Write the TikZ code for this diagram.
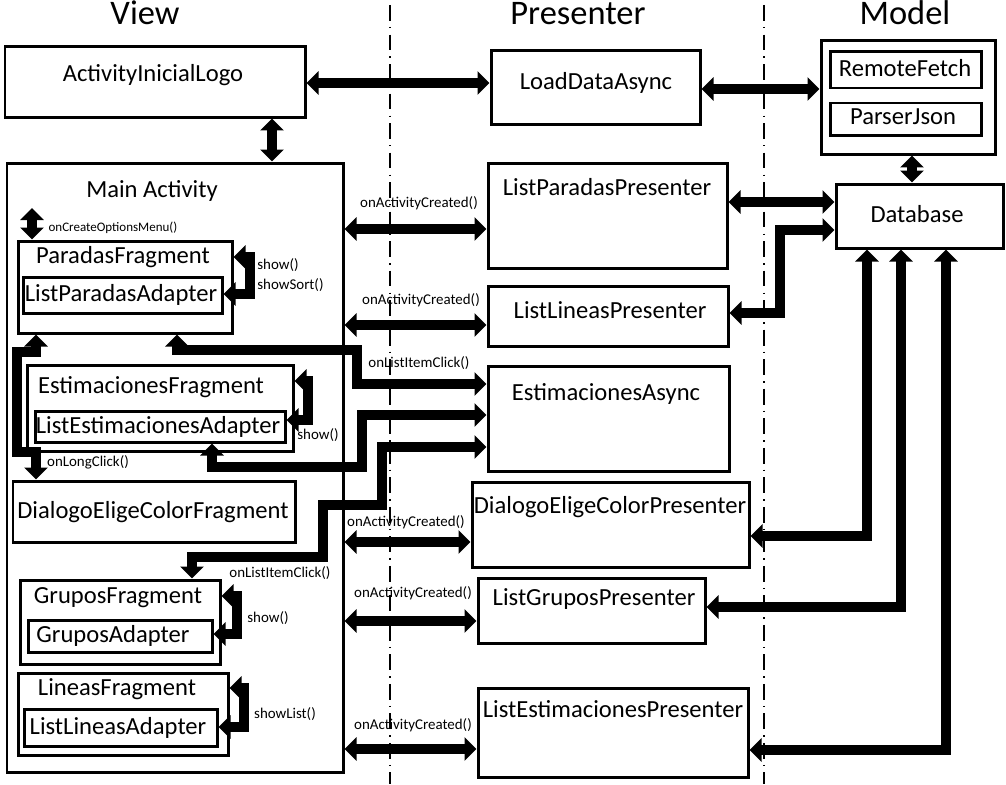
\documentclass[tikz,border=0pt]{standalone}
\usepackage{fontspec}
\setmainfont{Carlito}
\usetikzlibrary{arrows.meta,fit}

\tikzset{
  box/.style={draw, line width=0.06cm, inner sep=0pt},
  boxtxt/.style={font=\fontsize{14}{16}\selectfont, inner sep=0pt, text height=0.7em, text depth=0.2em, yshift=-1.2pt},
  msg/.style={font=\fontsize{8.5}{10}\selectfont, inner sep=0pt, text height=0.7em, text depth=0.2em},
  head/.style={font=\fontsize{19.6}{22}\selectfont, inner sep=0pt, text height=0.7em, text depth=0.2em},
  link/.style={line width=0.2cm, {Triangle[width=0.46cm,length=0.24cm]}-{Triangle[width=0.46cm,length=0.24cm]}},
  tierline/.style={line width=0.6pt, dash pattern=on 9pt off 3.5pt on 0.8pt off 3.5pt}
}

\begin{document}
\begin{tikzpicture}[x=0.02cm, y=-0.02cm]
    \useasboundingbox (0,0) rectangle (1006,784);

    % tiers
    \draw[tierline] (390,5) -- (390,784);
    \draw[tierline] (764,5) -- (764,784);

    \node[head] (hview) at (145,20) {View};
    \node[head] (hpres) at (578,20) {Presenter};
    \node[head] (hmodel) at (905,20) {Model};

    % view
    \node[box, fit={(5,47) (305,117)}] (logo) {};
    \node[boxtxt] (tlogo) at (153,75) {ActivityInicialLogo};
    \node[box, fit={(7,163) (343,772)}] (main) {};
    \node[boxtxt] (tmain) at (152,191) {Main Activity};

    \node[box, fit={(18,241) (232,333)}] (pf) {};
    \node[boxtxt] (tpf) at (123,257) {ParadasFragment};
    \node[box, fit={(23,277) (222,313)}] (lpa) {};
    \node[boxtxt] (tlpa) at (121,295) {ListParadasAdapter};

    \node[box, fit={(27,365) (293,451)}] (ef) {};
    \node[boxtxt] (tef) at (151,387) {EstimacionesFragment};
    \node[box, fit={(35,411) (285,442)}] (lea) {};
    \node[boxtxt] (tlea) at (158,427) {ListEstimacionesAdapter};

    \node[box, fit={(13,481) (295,542)}] (dlg) {};
    \node[boxtxt] (tdlg) at (153,512) {DialogoEligeColorFragment};

    \node[box, fit={(20,580) (220,664)}] (gf) {};
    \node[boxtxt] (tgf) at (118,597) {GruposFragment};
    \node[box, fit={(28,620) (212,652)}] (ga) {};
    \node[boxtxt] (tga) at (113,636) {GruposAdapter};

    \node[box, fit={(18,673) (228,755)}] (lf) {};
    \node[boxtxt] (tlf) at (117,689) {LineasFragment};
    \node[box, fit={(24,709) (217,746)}] (lla) {};
    \node[boxtxt] (tlla) at (118,728) {ListLineasAdapter};

    % presenter
    \node[box, fit={(491,51) (700,124)}] (lda) {};
    \node[boxtxt] (tlda) at (596,83) {LoadDataAsync};
    \node[box, fit={(488,163) (727,268)}] (lpp) {};
    \node[boxtxt] (tlpp) at (607,189) {ListParadasPresenter};
    \node[box, fit={(488,286) (728,346)}] (llp) {};
    \node[boxtxt] (tllp) at (610,312) {ListLineasPresenter};
    \node[box, fit={(488,366) (729,471)}] (ea) {};
    \node[boxtxt] (tea) at (606,394) {EstimacionesAsync};
    \node[box, fit={(472,482) (749,567)}] (dp) {};
    \node[boxtxt] (tdp) at (610,507) {DialogoEligeColorPresenter};
    \node[box, fit={(478,578) (705,643)}] (lgp) {};
    \node[boxtxt] (tlgp) at (594,599) {ListGruposPresenter};
    \node[box, fit={(478,688) (748,777)}] (lep) {};
    \node[boxtxt] (tlep) at (613,711) {ListEstimacionesPresenter};

    % model
    \node[box, fit={(821,41) (995,154)}] (mod) {};
    \node[box, fit={(830,52) (981,88)}] (rf) {};
    \node[boxtxt] (trf) at (905,70) {RemoteFetch};
    \node[box, fit={(830,103) (981,135)}] (pj) {};
    \node[boxtxt] (tpj) at (903,118) {ParserJson};
    \node[box, fit={(836,184) (1003,248)}] (db) {};
    \node[boxtxt] (tdb) at (917,216) {Database};

    % top row
    \draw[link] (logo.east |- 0,83) -- (lda.west |- 0,83);
    \draw[link] (lda.east |- 0,89) -- (mod.west |- 0,89);
    \draw[link] (logo.south -| 272,0) -- (main.north -| 272,0);
    \draw[link] (mod.south -| 912,0) -- (db.north -| 912,0);

    % presenter <-> model
    \draw[link] (lpp.east |- 0,202) -- (db.west |- 0,202);
    \draw[link] (db.west |- 0,230) -| (780,313) -- (llp.east |- 0,313);
    \draw[link] (db.south -| 867,0) |- (dp.east |- 0,536);
    \draw[link] (db.south -| 901,0) |- (lgp.east |- 0,607);
    \draw[link] (db.south -| 946,0) |- (lep.east |- 0,750);

    % view <-> presenter
    \draw[link] (main.east |- 0,229) -- (lpp.west |- 0,229);
    \draw[link] (main.east |- 0,325) -- (llp.west |- 0,325);
    \draw[link] (main.east |- 0,542) -- (dp.west |- 0,542);
    \draw[link] (main.east |- 0,621) -- (lgp.west |- 0,621);
    \draw[link] (main.east |- 0,749) -- (lep.west |- 0,749);
    \draw[link] (pf.south -| 177,0) |- (357,350) |- (ea.west |- 0,384);
    \draw[link] (lea.south -| 212,0) |- (362,467) |- (ea.west |- 0,415);
    \draw[link] (gf.north -| 192,0) |- (323,557) |- (382,505) |- (ea.west |- 0,447);

    % inside main activity
    \coordinate (menu) at (32,208);
    \draw[link] (menu) -- (pf.north -| menu);
    \draw[link] (pf.south -| 36,0) |- (17,352) |- (36,452) -- (dlg.north -| 36,0);
    \draw[link] (pf.east |- 0,257) -- (250,257) |- (lpa.east |- 0,294);
    \draw[link] (ef.east |- 0,381) -- (308,381) |- (lea.east |- 0,420);
    \draw[link] (gf.east |- 0,596) -- (237,596) |- (ga.east |- 0,634);
    \draw[link] (lf.east |- 0,688) -- (244,688) |- (lla.east |- 0,727);

    % labels
    \node[msg] (m1) at (419,203) {onActivityCreated()};
    \node[msg] (m2) at (421,300) {onActivityCreated()};
    \node[msg] (m3) at (419,363) {onListItemClick()};
    \node[msg] (m4) at (406,522) {onActivityCreated()};
    \node[msg] (m5) at (413,593) {onActivityCreated()};
    \node[msg] (m6) at (413,725) {onActivityCreated()};
    \node[msg] (m7) at (280,573) {onListItemClick()};
    \node[msg, font=\fontsize{7.4}{9}\selectfont] (m8) at (113,227) {onCreateOptionsMenu()};
    \node[msg] (m9) at (88,462) {onLongClick()};
    \node[msg, anchor=west] (m10) at (257,265) {show()};
    \node[msg, anchor=west] (m11) at (257,285) {showSort()};
    \node[msg] (m12) at (318,435) {show()};
    \node[msg] (m13) at (268,618) {show()};
    \node[msg] (m14) at (285,714) {showList()};
\end{tikzpicture}
\end{document}
